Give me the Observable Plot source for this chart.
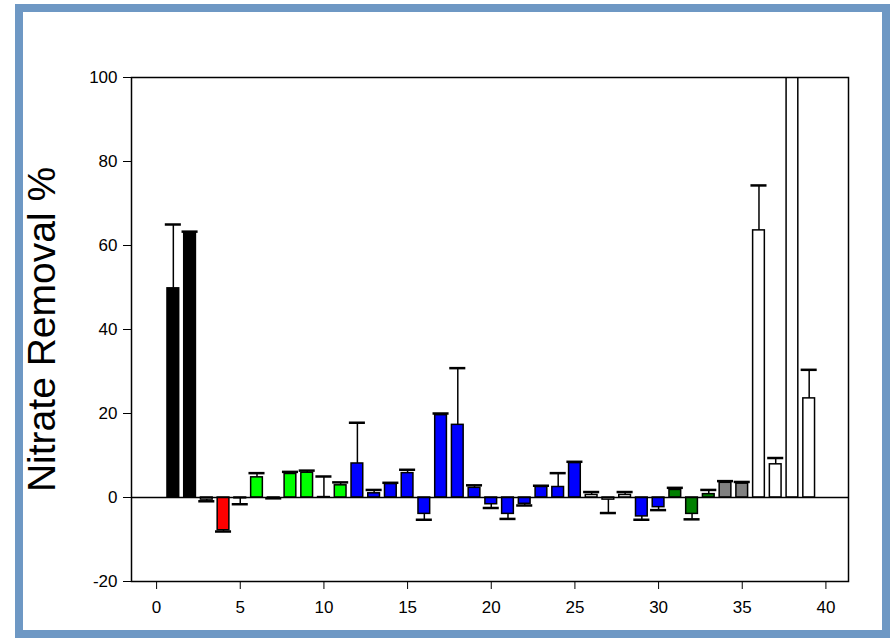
<!DOCTYPE html>
<html>
<head>
<meta charset="utf-8">
<script src="https://cdn.jsdelivr.net/npm/d3@7"></script>
<script src="https://cdn.jsdelivr.net/npm/@observablehq/plot@0.6"></script>
<style>
  html, body { margin: 0; padding: 0; background: #fff; }
  #wrap { position: relative; width: 890px; height: 638px; overflow: hidden; background: #fff; }
  #border { position: absolute; left: 15px; top: 4px; width: 859px; height: 618px; border: 8px solid #6e98c4; pointer-events: none; }
  #chart { position: absolute; left: 0; top: 0; }
</style>
</head>
<body>
<div id="wrap"><div id="chart"></div><div id="border"></div></div>
<script>
const positions = [1,2,3,4,5,6,7,8,9,10,11,12,13,14,15,16,17,18,19,20,21,22,23,24,25,26,27,28,29,30,31,32,33,34,35,36,37,38,39];
const values = [49.8,63.0,-0.5,-7.8,-0.2,4.8,-0.1,5.6,5.9,0.1,2.9,8.1,1.0,3.2,5.8,-3.9,19.6,17.3,2.3,-1.6,-3.9,-1.5,2.5,2.5,8.2,0.6,-0.5,0.6,-4.5,-2.3,1.8,-3.9,0.8,3.5,3.3,63.6,7.9,130,23.6];
const errors = [15.2,0.3,0.4,0.3,1.4,1.0,0.1,0.5,0.5,4.9,0.7,9.7,0.8,0.3,0.8,1.4,0.4,13.5,0.6,0.9,1.2,0.4,0.3,3.3,0.3,0.7,3.2,0.7,0.8,0.7,0.5,1.3,1.0,0.4,0.4,10.7,1.5,0,6.8];
const colors = ["#000000","#000000","#ffffff","#ff0000","#ffffff","#00ff00","#00ff00","#00ff00","#00ff00","#ffffff","#00ff00",
  "#0000ff","#0000ff","#0000ff","#0000ff","#0000ff","#0000ff","#0000ff","#0000ff","#0000ff","#0000ff","#0000ff","#0000ff","#0000ff","#0000ff",
  "#ffffff","#ffffff","#ffffff","#0000ff","#0000ff","#008000","#008000","#008000","#808080","#808080","#ffffff","#ffffff","#ffffff","#ffffff"];
const xTicks = [0,5,10,15,20,25,30,35,40];
const yTicks = [-20,0,20,40,60,80,100];
const yLabel = "Nitrate Removal %";

const data = positions.map((x, i) => ({x, v: values[i], e: errors[i], c: colors[i]}));
const half = 0.35, capHalf = 0.48;
const errEnd = d => d.v >= 0 ? d.v + d.e : d.v - d.e;

const chart = Plot.plot({
  width: 890,
  height: 638,
  marginLeft: 131,
  marginRight: 42,
  marginTop: 77,
  marginBottom: 57,
  style: {fontFamily: "'Liberation Sans', Arial, sans-serif", color: "#000", background: "transparent"},
  x: {domain: [-1.5, 41.35]},
  y: {domain: [-20, 100]},
  marks: [
    Plot.rect(data, {x1: d => d.x - half, x2: d => d.x + half, y1: 0, y2: "v", fill: "c", stroke: "#000", strokeWidth: 1.5, clip: true}),
    Plot.ruleX(data.filter(d => d.e > 0), {x: "x", y1: "v", y2: errEnd, stroke: "#000", strokeWidth: 1.5, clip: true}),
    Plot.ruleY(data.filter(d => d.e > 0), {y: errEnd, x1: d => d.x - capHalf, x2: d => d.x + capHalf, stroke: "#000", strokeWidth: 2.5, clip: true}),
    Plot.ruleY([0], {stroke: "#000", strokeWidth: 1.5}),
    Plot.frame({stroke: "#000", strokeWidth: 1.5}),
    Plot.axisY({ticks: yTicks, tickSize: 8, tickPadding: 6, fontSize: 17, label: null, tickFormat: d => String(d)}),
    Plot.axisX({ticks: xTicks, tickSize: 8, tickPadding: 11, fontSize: 17, label: null, tickFormat: d => String(d)}),
    Plot.text([yLabel], {text: d => d, frameAnchor: "left", textAnchor: "middle", lineAnchor: "middle", rotate: -90, dx: -89, fontSize: 39, fill: "#000"})
  ]
});
document.getElementById("chart").appendChild(chart);
</script>
</body>
</html>
